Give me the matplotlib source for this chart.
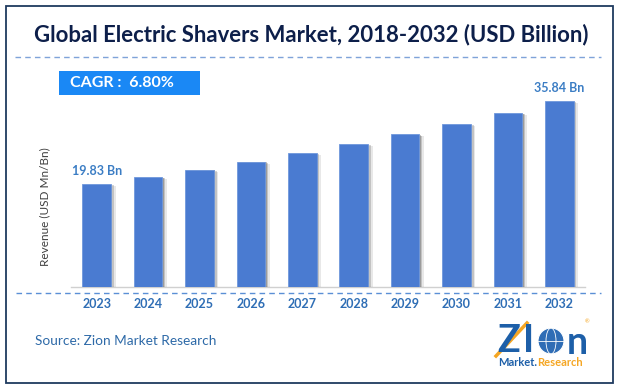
import matplotlib.pyplot as plt
import matplotlib.patheffects as pe
from matplotlib.patches import Rectangle, Ellipse
from matplotlib.lines import Line2D

# --- data ---
years = ["2023", "2024", "2025", "2026", "2027", "2028", "2029", "2030", "2031", "2032"]
revenue = [19.83, 21.18, 22.62, 24.16, 25.80, 27.55, 29.43, 31.43, 33.56, 35.84]
value_labels = {0: "19.83 Bn", 9: "35.84 Bn"}
title = "Global Electric Shavers Market, 2018-2032 (USD Billion)"
cagr_text = "CAGR :  6.80%"
source_text = "Source: Zion Market Research"
ylabel = "Revenue (USD Mn/Bn)"

W, H = 620, 389
plt.rcParams['font.family'] = ['Lato', 'DejaVu Sans']

bar_color = '#4a7bd1'
label_blue = '#2f6eb5'


def fx(px):
    return px / W


def fy(py):
    return 1 - py / H


fig = plt.figure(figsize=(W / 100, H / 100), dpi=100)
fig.patch.set_facecolor('white')

# outer frame
fig.patches.append(Rectangle((fx(5.5), fy(383)), fx(613) - fx(5.5), fy(5.5) - fy(383),
                             transform=fig.transFigure, fill=False,
                             edgecolor='#1f3a5f', lw=1.3))

# title + dashed rule
fig.text(fx(311.5), fy(35), title, ha='center', va='center', fontsize=15.9,
         fontweight='bold', color='#0d1f4a')
fig.lines.append(Line2D([fx(15), fx(601)], [fy(57), fy(57)], transform=fig.transFigure,
                        color='#7fa3d9', lw=1, linestyle=(0, (4, 3))))

# CAGR box
fig.patches.append(Rectangle((fx(59), fy(94.5)), fx(200) - fx(59), fy(71) - fy(94.5),
                             transform=fig.transFigure, facecolor='#1a88f5',
                             edgecolor='none'))
fig.text(fx(70), fy(83), cagr_text, ha='left', va='center', fontsize=11.5,
         fontweight='bold', color='white')

# bar axes
base_y, top_y = 287, 90
ax = fig.add_axes([fx(71), fy(base_y), fx(585) - fx(71), fy(top_y) - fy(base_y)])
px_per_unit = 186 / 35.84
ax.set_ylim(0, (base_y - top_y) / px_per_unit)
ax.set_xlim(-0.5, len(years) - 0.5)

x = list(range(len(years)))
bars = ax.bar(x, revenue, width=0.56, color=bar_color, edgecolor='#6f97dc', lw=0.6, zorder=3)
for b in bars:
    b.set_path_effects([
        pe.SimplePatchShadow(offset=(3.2, -1.5), shadow_rgbFace='#666666', alpha=0.15),
        pe.SimplePatchShadow(offset=(2.0, -1.0), shadow_rgbFace='#555555', alpha=0.25),
        pe.SimplePatchShadow(offset=(1.0, -0.5), shadow_rgbFace='#444444', alpha=0.3),
        pe.Normal()])

for i, txt in value_labels.items():
    ax.annotate(txt, (x[i], revenue[i]), xytext=(0, 5), textcoords='offset points',
                ha='center', va='bottom', fontsize=9, fontweight='bold', color='#3b7dc4')

for s in ['top', 'left', 'right']:
    ax.spines[s].set_visible(False)
ax.spines['bottom'].set_color('#d0d0d0')
ax.spines['bottom'].set_linewidth(1)
ax.set_yticks([])
ax.set_xticks(x)
ax.set_xticklabels(years, fontsize=9, fontweight='bold', color=label_blue)
ax.tick_params(axis='x', length=0, pad=8)
ax.set_facecolor('none')

# dashed line below the axis
fig.lines.append(Line2D([fx(16), fx(601)], [fy(292.5), fy(292.5)], transform=fig.transFigure,
                        color='#5b8fd6', lw=1, linestyle=(0, (4, 3))))

fig.text(fx(45), fy(207), ylabel, rotation=90, ha='center', va='center', fontsize=8.5,
         color='#404040')

fig.text(fx(35), fy(341), source_text, ha='left', va='center', fontsize=9.8, color='#2e6aa8')

# logo (approximation)
logo_blue = '#1d5fa8'
orange = '#f5a623'
fig.text(fx(497), fy(341), "Z", ha='left', va='center', fontsize=27, fontweight='bold',
         color=logo_blue)
fig.text(fx(523), fy(341), "I", ha='left', va='center', fontsize=27, fontweight='bold',
         color=logo_blue)
fig.lines.append(Line2D([fx(496), fx(527)], [fy(356), fy(323)], transform=fig.transFigure,
                        color=orange, lw=2.5))
fig.patches.append(Ellipse((fx(551), fy(341)), fx(26) - fx(0), fy(0) - fy(26),
                           transform=fig.transFigure, facecolor='#2f6db5',
                           edgecolor='white', lw=0.8))
fig.patches.append(Ellipse((fx(551), fy(341)), fx(10) - fx(0), fy(0) - fy(26),
                           transform=fig.transFigure, facecolor='none',
                           edgecolor='white', lw=0.6))
fig.lines.append(Line2D([fx(538), fx(564)], [fy(341), fy(341)], transform=fig.transFigure,
                        color='white', lw=0.6))
fig.text(fx(567), fy(343), "n", ha='left', va='center', fontsize=27, fontweight='bold',
         color=logo_blue)
fig.text(fx(585), fy(322), "®", ha='left', va='center', fontsize=4, color=orange)
fig.text(fx(498), fy(363), "Market.", ha='left', va='center', fontsize=8, fontweight='bold',
         color=logo_blue)
fig.text(fx(537), fy(363), "Research", ha='left', va='center', fontsize=8, fontweight='bold',
         color=orange)

fig.savefig("out.png", dpi=100)
